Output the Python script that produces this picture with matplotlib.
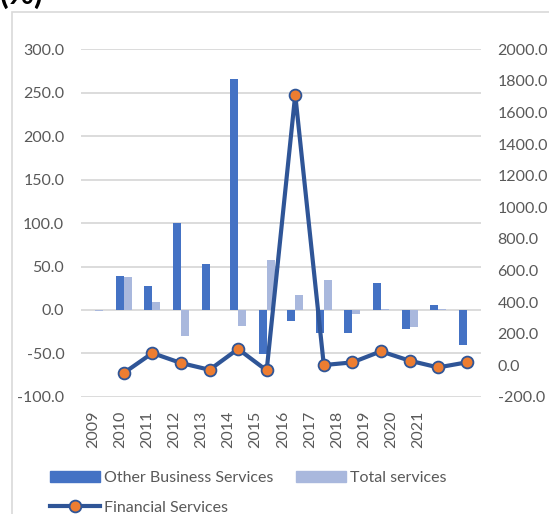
import matplotlib.pyplot as plt
import numpy as np
from matplotlib.patches import Rectangle
from matplotlib.lines import Line2D
from matplotlib.patches import Patch

plt.rcParams['font.family'] = ['Lato', 'DejaVu Sans']

years = ['2009', '2010', '2011', '2012', '2013', '2014', '2015',
         '2016', '2017', '2018', '2019', '2020', '2021']
# one more period than labels on the category axis
other_business = [np.nan, 39.3, 27.7, 100.0, 52.5, 266.0, -51.0,
                  -12.5, -27.0, -27.0, 30.5, -21.5, 5.2, -40.5]
total_services = [-1.5, 38.0, 9.5, -30.0, 0.0, -18.0, 58.0,
                  17.7, 34.0, -5.0, 1.5, -20.0, 1.5, np.nan]
financial = [np.nan, -49, 77, 14, -29, 103, -33,
             1713, 1, 18, 88, 29, -14, 18]

dark_blue = '#4472C4'
light_blue = '#A9B8DD'
line_blue = '#2F5597'
orange = '#ED7D31'
grey_text = '#595959'
fs = 11.5

fig = plt.figure(figsize=(5.49, 5.14), dpi=100)
ax = fig.add_axes([0.1475, 0.228, 0.7285, 0.676])
ax2 = ax.twinx()

x = np.arange(len(other_business))
w = 0.28
ax.bar(x - w / 2, other_business, w, color=dark_blue, zorder=2)
ax.bar(x + w / 2, total_services, w, color=light_blue, zorder=2)

ax2.plot(x, financial, color=line_blue, lw=3, marker='o', ms=8.5,
         mfc=orange, mec=line_blue, mew=1.3, zorder=3)

ax.set_xlim(-0.5, len(x) - 0.5)
ax.set_ylim(-100, 300)
ax2.set_ylim(-200, 2000)
ax.set_yticks(np.arange(-100, 301, 50))
ax2.set_yticks(np.arange(-200, 2001, 200))
ax.set_yticklabels([f'{v:.1f}' for v in np.arange(-100, 301, 50)])
ax2.set_yticklabels([f'{v:.1f}' for v in np.arange(-200, 2001, 200)])
ax.grid(axis='y', color='#D9D9D9', lw=1.3, zorder=0)
ax.set_axisbelow(True)

# year labels sit slightly compressed toward the left
ax.set_xticks(np.arange(len(years)) * 0.949 - 0.08)
ax.set_xticklabels(years, rotation=90)

for a in (ax, ax2):
    for s in a.spines.values():
        s.set_visible(False)
    a.tick_params(length=0, labelsize=fs, labelcolor=grey_text)
ax.tick_params(axis='y', pad=12)
ax2.tick_params(axis='y', pad=12)
ax.tick_params(axis='x', pad=10)

# chart area border
fig.patches.append(Rectangle((12 / 549, -0.1), 1.2, 1 - 12 / 514 + 0.1,
                             transform=fig.transFigure, fill=False,
                             ec='#D9D9D9', lw=1.2))

fig.text(0.0, 1 - 4 / 514, '(%)', fontsize=23, fontweight='bold',
         va='baseline', ha='left')

handles = [Patch(color=dark_blue),
           Line2D([], [], color=line_blue, lw=3, marker='o', ms=8.5,
                  mfc=orange, mec=line_blue, mew=1.3),
           Patch(color=light_blue)]
labels = ['Other Business Services', 'Financial Services', 'Total services']
fig.legend(handles, labels, ncol=2, loc='upper left',
           bbox_to_anchor=(42 / 549, 1 - 463 / 514), frameon=False,
           fontsize=fs, labelcolor=grey_text, handlelength=3.1,
           handletextpad=0.3, columnspacing=1.4, labelspacing=0.95,
           borderpad=0)

fig.savefig('out.png', dpi=100)
